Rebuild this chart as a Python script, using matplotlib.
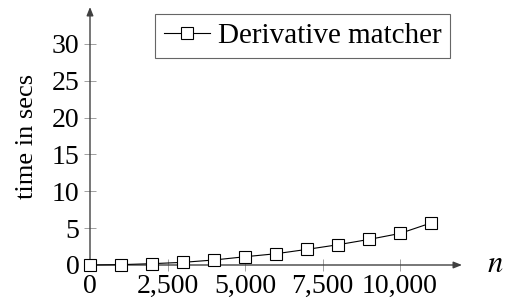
import matplotlib
matplotlib.use("Agg")
import matplotlib.pyplot as plt
from matplotlib.ticker import FuncFormatter

n_values = [0, 1000, 2000, 3000, 4000, 5000, 6000, 7000, 8000, 9000, 10000, 11000]
times = [0.0, 0.05, 0.18, 0.36, 0.68, 1.12, 1.53, 2.12, 2.75, 3.47, 4.28, 5.7]
x_ticks = [0, 2500, 5000, 7500, 10000]
y_ticks = [0, 5, 10, 15, 20, 25, 30]
series_label = "Derivative matcher"

plt.rcParams['font.family'] = ['Liberation Serif', 'DejaVu Serif']
plt.rcParams['mathtext.fontset'] = 'stix'

W, H = 507, 307
fig = plt.figure(figsize=(W / 100, H / 100), dpi=100)
left, right, bottom, top = 90, 462, 265, 7
ax = fig.add_axes([left / W, 1 - bottom / H, (right - left) / W, (bottom - top) / H])
ax.set_xlim(0, 12000)
ax.set_ylim(0, 35)
for s in ax.spines.values():
    s.set_visible(False)

axis_col = '#404040'
ax.annotate('', xy=(1, 0), xytext=(0, 0), xycoords='axes fraction',
            arrowprops=dict(arrowstyle='-|>,head_length=0.5,head_width=0.2', color=axis_col, lw=1.0,
                            shrinkA=0, shrinkB=0), annotation_clip=False)
ax.annotate('', xy=(0, 1), xytext=(0, 0), xycoords='axes fraction',
            arrowprops=dict(arrowstyle='-|>,head_length=0.5,head_width=0.2', color=axis_col, lw=1.0,
                            shrinkA=0, shrinkB=0), annotation_clip=False)

ax.plot(n_values, times, color='black', lw=0.8, marker='s', markersize=9,
        markerfacecolor='white', markeredgecolor='black', markeredgewidth=0.8,
        clip_on=False, zorder=5, label=series_label)

ax.set_xticks(x_ticks)
ax.set_yticks(y_ticks)
ax.xaxis.set_major_formatter(FuncFormatter(lambda v, p: f"{int(v):,}"))
ax.tick_params(direction='inout', length=9, width=0.6, color='#909090', labelsize=20, pad=2)
ax.tick_params(axis='y', pad=3)

ax.set_ylabel('time in secs', fontsize=19, labelpad=10)
ax.text(1.09, 0, r'$n$', transform=ax.transAxes, fontsize=22, ha='center', va='center')

leg = ax.legend(loc='upper right', bbox_to_anchor=(450 / W, 1 - 14 / H), bbox_transform=fig.transFigure,
                fontsize=21, frameon=True, fancybox=False, handlelength=1.6, handletextpad=0.25,
                borderpad=0.3, borderaxespad=0)
leg.get_frame().set_edgecolor('#404040')
leg.get_frame().set_linewidth(0.8)

fig.savefig('out.png', dpi=100)
